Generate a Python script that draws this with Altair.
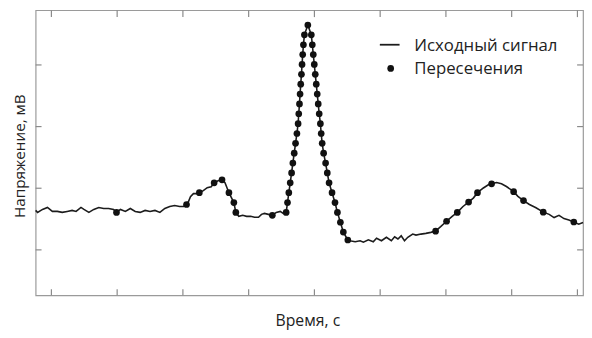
import altair as alt
import pandas as pd

# Signal (time in ms, voltage in mV)
sig_t = [76.0, 79.0, 86.5, 94.0, 101.5, 109.0, 116.5, 124.0, 131.5, 137.5, 145.0, 149.5, 157.0, 164.5,
         172.0, 179.5, 187.0, 194.5, 199.0, 205.0, 212.5, 220.0, 227.5, 235.0, 242.5, 250.0, 257.5, 265.0,
         272.5, 280.0, 287.5, 295.0, 301.0, 305.5, 308.5, 311.5, 316.0, 320.5, 325.0, 331.0, 337.0, 343.0,
         347.5, 353.5, 359.5, 364.0, 370.0, 377.5, 380.5, 385.0, 391.0, 397.0, 403.0, 409.0, 415.0, 419.5,
         424.0, 430.0, 436.0, 442.0, 448.0, 452.5, 457.0,
         459.1, 461.1, 463.2, 465.3, 467.2, 469.3, 471.3, 473.4, 475.2, 476.2, 477.3, 478.2, 479.2, 480.3,
         481.2, 482.2, 483.3, 484.8, 490.0,
         495.3, 496.8, 498.3, 499.8, 501.3, 502.8, 504.3, 505.8, 507.3, 509.1, 510.3, 511.8, 514.0, 517.0,
         519.6, 522.3, 526.8, 531.3, 535.0, 539.5, 544.0, 550.8,
         556.0, 562.0, 569.5, 574.5, 582.0, 589.5, 594.5, 602.0, 609.5, 617.0, 622.0, 627.0, 632.0, 637.0,
         642.0, 649.5, 654.5, 662.0, 669.5, 677.0, 684.3, 692.0, 701.0, 709.5, 717.3, 726.0, 734.5, 742.0,
         748.0, 757.0, 764.5, 769.5, 777.0, 784.5, 792.0, 803.0, 809.5, 818.0, 827.0, 837.0, 848.0, 857.0,
         864.5, 872.0, 879.5, 887.0, 894.5, 902.0, 908.5]
sig_v = [0.320, 0.304, 0.328, 0.344, 0.312, 0.312, 0.304, 0.312, 0.320, 0.312, 0.344, 0.328, 0.304, 0.328,
         0.344, 0.336, 0.336, 0.328, 0.304, 0.328, 0.312, 0.336, 0.312, 0.304, 0.320, 0.312, 0.320, 0.304,
         0.336, 0.352, 0.360, 0.352, 0.352, 0.368, 0.392, 0.432, 0.456, 0.456, 0.464, 0.480, 0.504, 0.512,
         0.544, 0.560, 0.568, 0.544, 0.464, 0.384, 0.304, 0.272, 0.280, 0.272, 0.272, 0.264, 0.264, 0.288,
         0.296, 0.288, 0.280, 0.304, 0.312, 0.296, 0.304,
         0.384, 0.464, 0.544, 0.624, 0.704, 0.784, 0.864, 0.944, 1.024, 1.104, 1.184, 1.264, 1.344, 1.424,
         1.504, 1.584, 1.664, 1.744, 1.824,
         1.744, 1.664, 1.584, 1.504, 1.424, 1.344, 1.264, 1.184, 1.104, 1.024, 0.944, 0.864, 0.784, 0.704,
         0.624, 0.544, 0.464, 0.384, 0.304, 0.224, 0.144, 0.080,
         0.072, 0.066, 0.074, 0.062, 0.082, 0.066, 0.094, 0.074, 0.102, 0.074, 0.106, 0.088, 0.114, 0.074,
         0.102, 0.128, 0.120, 0.128, 0.134, 0.142, 0.152, 0.188, 0.232, 0.272, 0.304, 0.352, 0.388, 0.422,
         0.464, 0.502, 0.528, 0.536, 0.546, 0.536, 0.514, 0.472, 0.434, 0.400, 0.368, 0.342, 0.306, 0.288,
         0.262, 0.280, 0.254, 0.242, 0.226, 0.208, 0.222]

# Level-crossing samples
cross_t = [199.0, 305.5, 325.0, 347.5, 359.5, 370.0, 377.5, 380.5, 436.0, 457.0,
           459.1, 461.1, 463.2, 465.3, 467.2, 469.3, 471.3, 473.4, 475.2, 476.2, 477.3, 478.2, 479.2, 480.3,
           481.2, 482.2, 483.3, 484.8, 490.0,
           495.3, 496.8, 498.3, 499.8, 501.3, 502.8, 504.3, 505.8, 507.3, 509.1, 510.3, 511.8, 514.0, 517.0,
           519.6, 522.3, 526.8, 531.3, 535.0, 539.5, 544.0, 550.8,
           684.3, 701.0, 717.3, 734.5, 748.0, 769.5, 803.0, 818.0, 848.0, 894.5]
cross_v = [0.304, 0.368, 0.464, 0.544, 0.568, 0.464, 0.384, 0.304, 0.280, 0.304,
           0.384, 0.464, 0.544, 0.624, 0.704, 0.784, 0.864, 0.944, 1.024, 1.104, 1.184, 1.264, 1.344, 1.424,
           1.504, 1.584, 1.664, 1.744, 1.824,
           1.744, 1.664, 1.584, 1.504, 1.424, 1.344, 1.264, 1.184, 1.104, 1.024, 0.944, 0.864, 0.784, 0.704,
           0.624, 0.544, 0.464, 0.384, 0.304, 0.224, 0.144, 0.080,
           0.152, 0.232, 0.304, 0.388, 0.464, 0.536, 0.472, 0.400, 0.306, 0.226]

x_ticks = [100, 200, 300, 400, 500, 600, 700, 800, 900]
y_ticks = [0.0, 0.5, 1.0, 1.5]

W, H = 555, 289
FONT = "Open Sans"
TXT = "#222222"
xs = alt.Scale(domain=[76, 908.5], nice=False, zero=False)
ys = alt.Scale(domain=[-0.368, 1.944], nice=False, zero=False)

sig = pd.DataFrame({"t": sig_t, "v": sig_v})
cr = pd.DataFrame({"t": cross_t, "v": cross_v})
xt = pd.DataFrame({"t": x_ticks})
yt = pd.DataFrame({"v": y_ticks})
one = alt.Data(values=[{}])

line = alt.Chart(sig).mark_line(color="#1c1c1c", strokeWidth=1.6).encode(
    x=alt.X("t:Q", scale=xs, axis=None), y=alt.Y("v:Q", scale=ys, axis=None))
pts = alt.Chart(cr).mark_circle(color="#111111", size=46, opacity=1).encode(
    x=alt.X("t:Q", scale=xs, axis=None), y=alt.Y("v:Q", scale=ys, axis=None))

tick_style = dict(color="#8a8a8a", strokeWidth=1.2)
xb = alt.Chart(xt).mark_rule(**tick_style).encode(
    x=alt.X("t:Q", scale=xs, axis=None), y=alt.value(H), y2=alt.value(H - 6))
xtop = alt.Chart(xt).mark_rule(**tick_style).encode(
    x=alt.X("t:Q", scale=xs, axis=None), y=alt.value(0), y2=alt.value(7))
yl = alt.Chart(yt).mark_rule(**tick_style).encode(
    y=alt.Y("v:Q", scale=ys, axis=None), x=alt.value(0), x2=alt.value(6))
yr = alt.Chart(yt).mark_rule(**tick_style).encode(
    y=alt.Y("v:Q", scale=ys, axis=None), x=alt.value(W - 6), x2=alt.value(W))

ytitle = alt.Chart(one).mark_text(font=FONT, fontSize=15.5, color=TXT, angle=270,
                                  align="center", baseline="middle").encode(
    x=alt.value(-16), y=alt.value(148), text=alt.value("Напряжение, мВ"))
xtitle = alt.Chart(one).mark_text(font=FONT, fontSize=16, color=TXT,
                                  align="center", baseline="middle").encode(
    x=alt.value(276), y=alt.value(315), text=alt.value("Время, с"))

leg_line = alt.Chart(one).mark_rule(color="#1c1c1c", strokeWidth=1.8).encode(
    x=alt.value(349), x2=alt.value(369), y=alt.value(35))
leg_dot = alt.Chart(one).mark_circle(color="#111111", size=46, opacity=1).encode(
    x=alt.value(360), y=alt.value(59))
leg_t1 = alt.Chart(one).mark_text(font=FONT, fontSize=17, color=TXT, align="left",
                                  baseline="middle").encode(
    x=alt.value(384), y=alt.value(36), text=alt.value("Исходный сигнал"))
leg_t2 = alt.Chart(one).mark_text(font=FONT, fontSize=17, color=TXT, align="left",
                                  baseline="middle").encode(
    x=alt.value(384), y=alt.value(60), text=alt.value("Пересечения"))

chart = alt.layer(xb, xtop, yl, yr, line, pts, ytitle, xtitle, leg_line, leg_dot, leg_t1, leg_t2).properties(
    width=W, height=H,
    autosize=alt.AutoSizeParams(type="none"),
    padding={"left": 28, "top": 0, "right": 1, "bottom": 33},
).configure_view(stroke="#9a9a9a", strokeWidth=1.2)

chart.save("out.html", embed_options={"renderer": "svg", "actions": False})
